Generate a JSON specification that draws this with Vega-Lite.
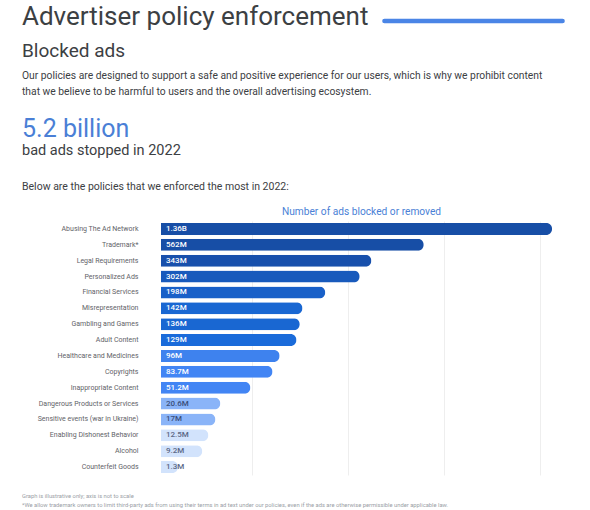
{
  "$schema": "https://vega.github.io/schema/vega-lite/v6.json",
  "background": "white",
  "padding": {"left": 22, "top": 4, "right": 0, "bottom": 0},
  "config": {"view": {"stroke": null}, "font": "Roboto"},
  "spacing": 0,
  "vconcat": [
    {
      "width": 404,
      "height": 1,
      "data": {"values": [{"part": "accent"}]},
      "title": {"text": "Advertiser policy enforcement", "anchor": "start", "frame": "group", "dx": -139, "baseline": "alphabetic", "fontSize": 26, "fontWeight": 400, "color": "#3c4043", "offset": -32.3},
      "mark": {"type": "rule", "strokeWidth": 4.5, "strokeCap": "round", "color": "#4a85e6"},
      "encoding": {
        "x": {"datum": 0.553, "type": "quantitative", "scale": {"domain": [0, 1]}, "axis": null},
        "x2": {"datum": 0.994},
        "y": {"datum": 20, "type": "quantitative", "scale": {"domain": [0, 1], "nice": false, "zero": false}, "axis": null}
      }
    },
    {
      "width": 404,
      "height": 19,
      "data": {"values": []},
      "title": {
        "text": "Blocked ads",
        "subtitle": ["Our policies are designed to support a safe and positive experience for our users, which is why we prohibit content", "that we believe to be harmful to users and the overall advertising ecosystem."],
        "anchor": "start", "frame": "group", "dx": -139, "fontSize": 19, "fontWeight": 400, "color": "#3c4043",
        "subtitleFontSize": 10.3, "subtitleColor": "#3c4043", "subtitleLineHeight": 16, "subtitlePadding": 10, "offset": 0
      },
      "mark": {"type": "rule", "opacity": 0},
      "encoding": {}
    },
    {
      "width": 404,
      "height": 24,
      "data": {"values": []},
      "title": {
        "text": "5.2 billion",
        "subtitle": "bad ads stopped in 2022",
        "anchor": "start", "frame": "group", "dx": -139, "fontSize": 25, "fontWeight": 400, "color": "#4a7fd6",
        "subtitleFontSize": 14.5, "subtitleColor": "#3c4043", "subtitlePadding": 2, "offset": 0
      },
      "mark": {"type": "rule", "opacity": 0},
      "encoding": {}
    },
    {
      "width": 400,
      "height": 254,
      "data": {"values": [
        {"policy": "Abusing The Ad Network", "value": 1360000000, "label": "1.36B"},
        {"policy": "Trademark*", "value": 562000000, "label": "562M"},
        {"policy": "Legal Requirements", "value": 343000000, "label": "343M"},
        {"policy": "Personalized Ads", "value": 302000000, "label": "302M"},
        {"policy": "Financial Services", "value": 198000000, "label": "198M"},
        {"policy": "Misrepresentation", "value": 142000000, "label": "142M"},
        {"policy": "Gambling and Games", "value": 136000000, "label": "136M"},
        {"policy": "Adult Content", "value": 129000000, "label": "129M"},
        {"policy": "Healthcare and Medicines", "value": 96000000, "label": "96M"},
        {"policy": "Copyrights", "value": 83700000, "label": "83.7M"},
        {"policy": "Inappropriate Content", "value": 51200000, "label": "51.2M"},
        {"policy": "Dangerous Products or Services", "value": 20600000, "label": "20.6M"},
        {"policy": "Sensitive events (war in Ukraine)", "value": 17000000, "label": "17M"},
        {"policy": "Enabling Dishonest Behavior", "value": 12500000, "label": "12.5M"},
        {"policy": "Alcohol", "value": 9200000, "label": "9.2M"},
        {"policy": "Counterfeit Goods", "value": 1300000, "label": "1.3M"}
      ]},
      "title": {"text": "Below are the policies that we enforced the most in 2022:", "anchor": "start", "frame": "group", "dx": -139, "fontSize": 10.5, "fontWeight": 400, "color": "#3c4043", "offset": 14},
      "encoding": {
        "y": {"field": "policy", "type": "nominal", "sort": null,
          "scale": {"paddingInner": 0.24, "paddingOuter": 0.12},
          "axis": {"title": null, "ticks": false, "domain": false, "labelPadding": 23, "labelFontSize": 7, "labelColor": "#5f6368", "minExtent": 139, "maxExtent": 139}}
      },
      "layer": [
        {
          "mark": {"type": "bar", "cornerRadiusEnd": 6},
          "encoding": {
            "x": {"field": "value", "type": "quantitative",
              "scale": {"type": "pow", "exponent": 0.45, "domain": [0, 1430000000], "nice": false},
              "axis": {"orient": "top", "title": "Number of ads blocked or removed", "titleColor": "#4a7fd6", "titleFontSize": 10.2, "titleFontWeight": 400, "titlePadding": 5, "labels": false, "ticks": false, "domain": false, "grid": true, "gridColor": "#eeeeee", "values": [53300000, 264000000, 663000000, 1269000000]}},
            "color": {"field": "policy", "type": "nominal", "legend": null,
              "scale": {
                "domain": ["Abusing The Ad Network", "Trademark*", "Legal Requirements", "Personalized Ads", "Financial Services", "Misrepresentation", "Gambling and Games", "Adult Content", "Healthcare and Medicines", "Copyrights", "Inappropriate Content", "Dangerous Products or Services", "Sensitive events (war in Ukraine)", "Enabling Dishonest Behavior", "Alcohol", "Counterfeit Goods"],
                "range": ["#174EA6", "#174EA6", "#1850AC", "#185ABC", "#1960C8", "#1967D2", "#1967D2", "#1A6BDA", "#3E82EE", "#4285F4", "#4285F4", "#8AB4F8", "#8AB4F8", "#D2E3FC", "#D2E3FC", "#D2E3FC"]}}
          }
        },
        {
          "mark": {"type": "text", "align": "left", "baseline": "middle", "dx": 5, "fontSize": 8, "fontWeight": 500},
          "encoding": {
            "x": {"datum": 0, "type": "quantitative"},
            "text": {"field": "label"},
            "color": {"condition": [{"test": "datum.value >= 40000000", "value": "#ffffff"}, {"test": "datum.value >= 15000000", "value": "#3b4f7a"}], "value": "#5b6886"}
          }
        }
      ]
    },
    {
      "width": 404,
      "height": 18,
      "data": {"values": []},
      "title": {
        "text": ["Graph is illustrative only; axis is not to scale", "*We allow trademark owners to limit third-party ads from using their terms in ad text under our policies, even if the ads are otherwise permissible under applicable law."],
        "orient": "bottom", "anchor": "start", "frame": "group", "dx": -139, "fontSize": 5.8, "fontWeight": 400, "color": "#9aa0a6", "lineHeight": 9, "offset": 0
      },
      "mark": {"type": "rule", "opacity": 0},
      "encoding": {}
    }
  ]
}
